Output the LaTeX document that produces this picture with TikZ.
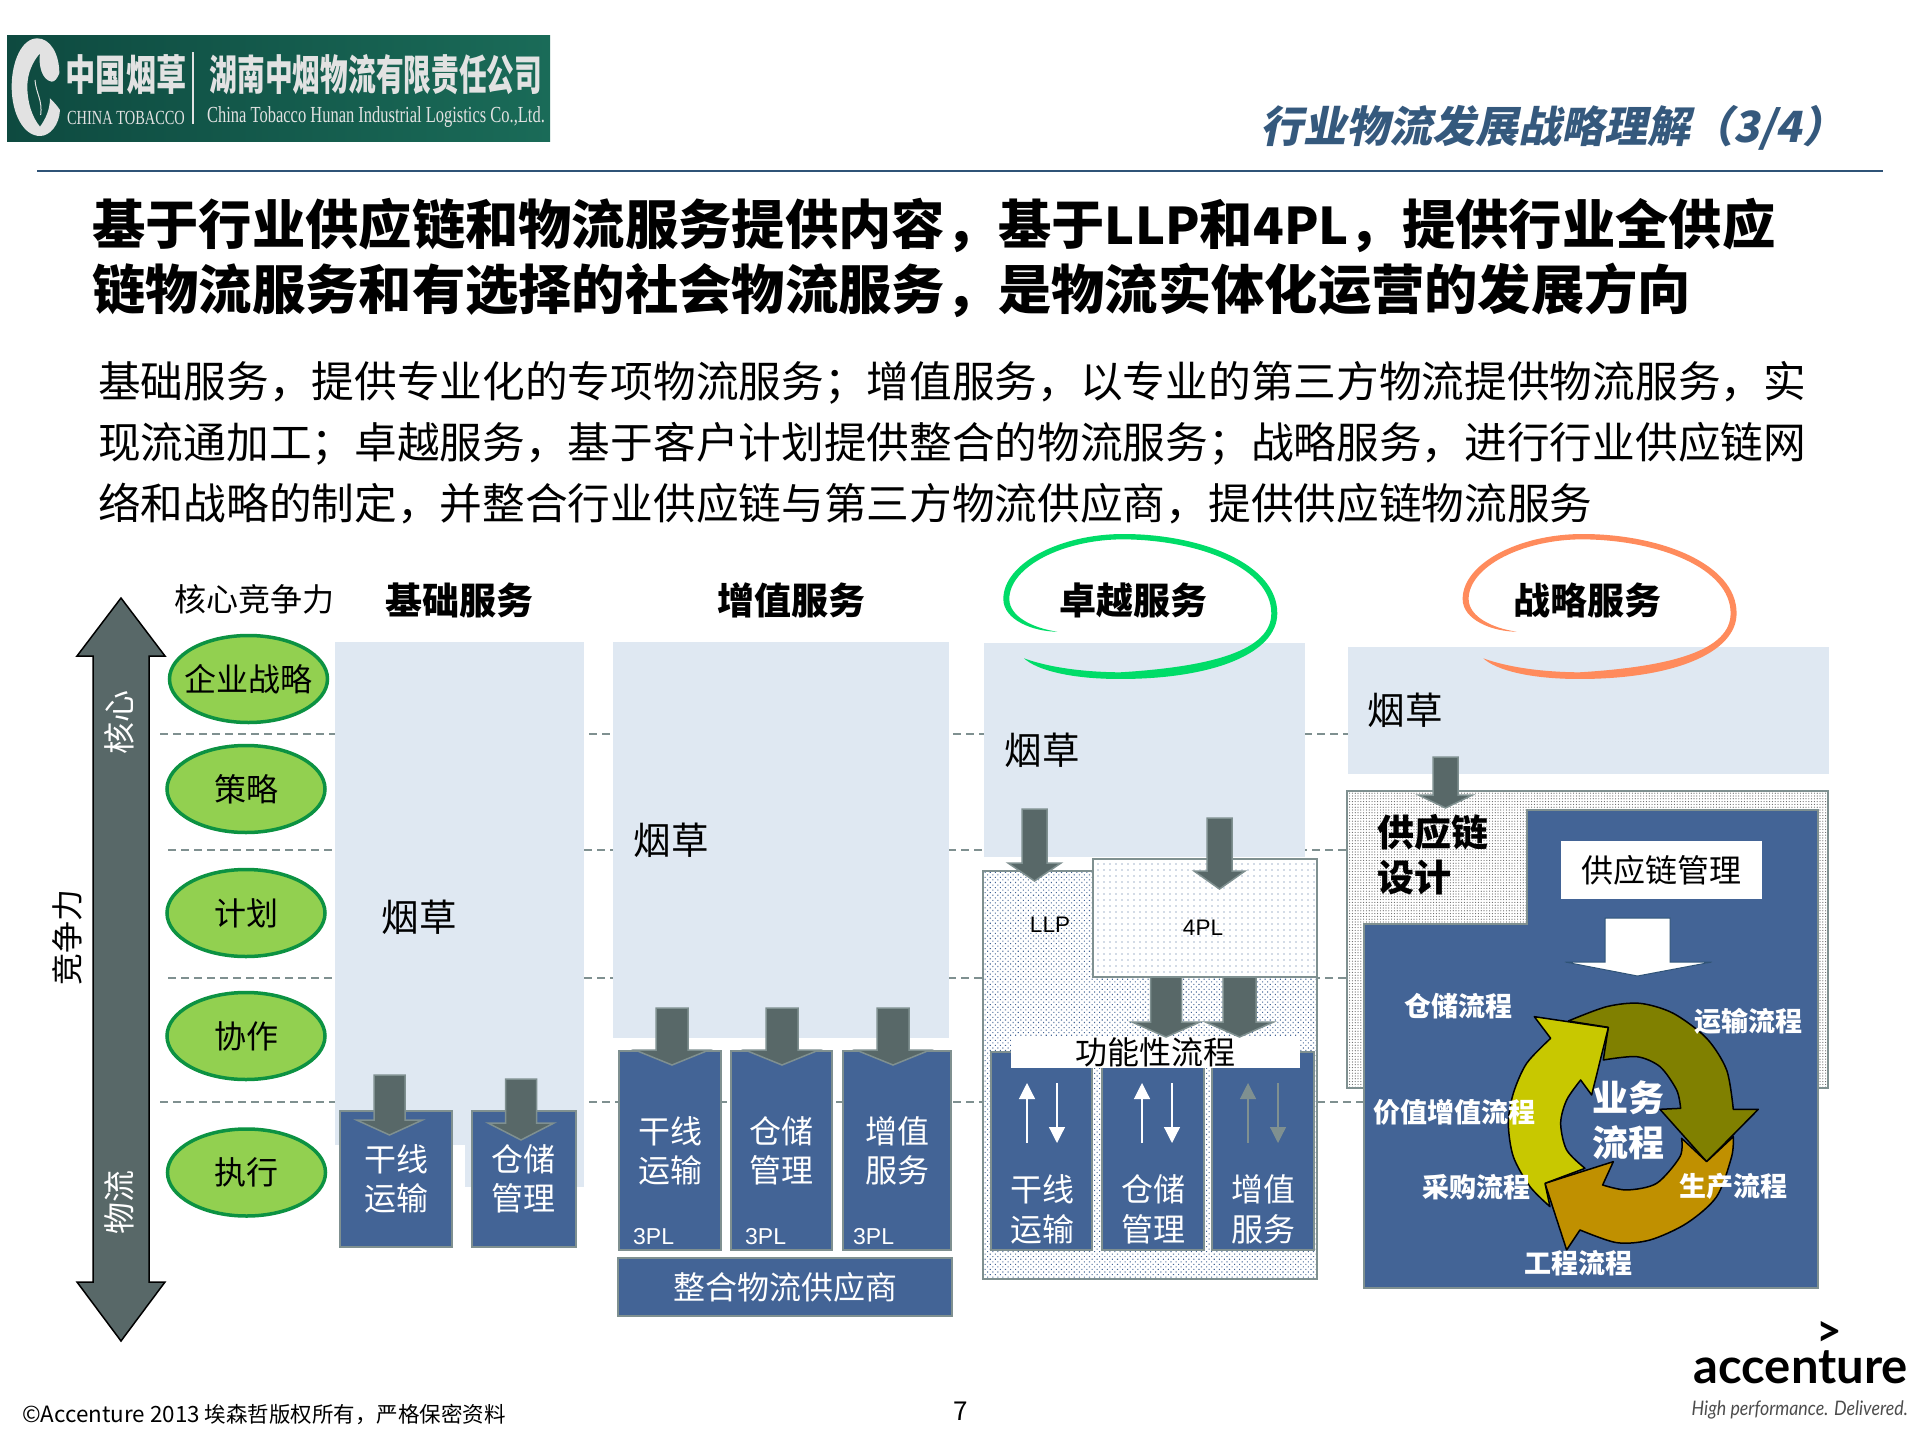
\documentclass[tikz,border=0pt]{standalone}
\usepackage{fontspec}
\setmainfont{Noto Sans CJK SC}
\newfontfamily\arialfont{Liberation Sans}
\newfontfamily\timesfont{Liberation Serif}
\newfontfamily\logofont{Lato}
\newfontfamily\headfont[FakeSlant=0.2]{Noto Sans CJK SC}
\usetikzlibrary{arrows.meta,patterns.meta,shapes.geometric}

\definecolor{slatefill}{HTML}{586868}
\definecolor{slateline}{HTML}{7F9090}
\definecolor{panelblue}{HTML}{DFE8F2}
\definecolor{boxblue}{HTML}{436496}
\definecolor{headblue}{HTML}{35597D}
\definecolor{rulecolor}{HTML}{2F5377}
\definecolor{leafgreen}{HTML}{92D050}
\definecolor{leafline}{HTML}{0C9242}
\definecolor{ringgreen}{HTML}{00DC68}
\definecolor{ringorange}{HTML}{FF8B5C}
\definecolor{logodark}{HTML}{0E4A40}
\definecolor{logolight}{HTML}{1A6B58}
\definecolor{logotext}{HTML}{E2E2E2}
\definecolor{cycleolive}{HTML}{808000}
\definecolor{cyclegold}{HTML}{C09000}
\definecolor{cycleyellow}{HTML}{C8C800}

\newcommand{\pxfont}[2]{\fontsize{#1}{#2}\selectfont}
\newcommand{\blockdown}[6]{%
    \filldraw[blockarrow] ({#1-#5},#2) -- ({#1+#5},#2) -- ({#1+#5},#3) -- ({#1+#6},#3) -- (#1,#4) -- ({#1-#6},#3) -- ({#1-#5},#3) -- cycle;}
\newcommand{\ringmark}[2]{%
    \fill[#2,shift={(#1,520)},x=0.3333pt,y=-0.3333pt] (292,335) .. controls (220,335) and (130,300) .. (130,237)
        .. controls (130,130) and (300,42) .. (490,42)
        .. controls (720,42) and (952,130) .. (952,280)
        .. controls (952,400) and (760,477) .. (480,477)
        .. controls (330,477) and (230,450) .. (192,415)
        .. controls (260,440) and (360,456) .. (480,457)
        .. controls (760,440) and (934,390) .. (934,280)
        .. controls (934,145) and (720,60) .. (490,58)
        .. controls (310,58) and (148,140) .. (148,237)
        .. controls (148,290) and (220,325) .. (292,335) -- cycle;}

\tikzset{
    rowline/.style={draw=slateline,line width=2pt,dash pattern=on 8pt off 5pt},
    blockarrow/.style={fill=slatefill,draw=slateline,line width=1.5pt},
    bluebox/.style={draw=slateline,fill=boxblue,line width=2pt,inner sep=0pt,text=white,align=center,font=\pxfont{32}{39}},
    bluetext/.style={text=white,align=center,inner sep=0pt,font=\pxfont{32}{40}},
    skill/.style={ellipse,draw=leafline,fill=leafgreen,line width=3.5pt,inner sep=0pt,minimum width=158pt,minimum height=87pt,font=\pxfont{32}{32}},
    colhead/.style={inner sep=0pt,font=\pxfont{37}{37}\bfseries},
    tobacco/.style={inner sep=0pt,font=\pxfont{37.5}{37.5}},
    threepl/.style={anchor=west,inner sep=0pt,text=white,font=\arialfont\pxfont{23}{23}},
    cyclelabel/.style={inner sep=0pt,text=white,font=\pxfont{27}{27}\bfseries},
    thinup/.style={line width=1.2pt,-{Triangle[width=16pt,length=16pt]}},
    cycleseg/.style={draw=black,line width=1.5pt,line join=round}
}

\begin{document}
\begin{tikzpicture}[x=1pt,y=-1pt]
        \useasboundingbox (0,0) rectangle (1920,1440);
        \fill[white] (0,0) rectangle (1920,1440);

        \shade[left color=logodark,right color=logolight] (7,35) rectangle (550,141);
        \begin{scope}[shift={(0,30)},x=0.3333pt,y=-0.3333pt]
            \fill[logotext] (178,130) .. controls (178,70) and (150,25) .. (112,25)
                .. controls (65,25) and (35,95) .. (35,170)
                .. controls (35,250) and (70,318) .. (120,318)
                .. controls (150,318) and (178,285) .. (180,240)
                .. controls (170,225) and (160,215) .. (150,205)
                .. controls (150,240) and (135,270) .. (120,290)
                .. controls (95,260) and (82,215) .. (82,170)
                .. controls (82,130) and (98,95) .. (120,70)
                .. controls (115,105) and (125,150) .. (155,155)
                .. controls (165,155) and (172,145) .. (178,130) -- cycle;
            \draw[logotext,line width=1pt] (105,150) .. controls (108,190) and (128,210) .. (122,255);
        \end{scope}
        \draw[logotext,line width=1.2pt] (193,52) -- (193,124);
        \node[text=logotext,inner sep=0pt,xscale=0.72,font=\pxfont{42}{42}\bfseries] (logocn) at (126,75){中国烟草};
        \node[text=logotext,inner sep=0pt,xscale=0.66,font=\pxfont{42}{42}\bfseries] (logocompany) at (376,75){湖南中烟物流有限责任公司};
        \node[text=logotext,inner sep=0pt,xscale=0.72,font=\timesfont\pxfont{20}{20}] (logochina) at (126,118){CHINA TOBACCO};
        \node[text=logotext,inner sep=0pt,xscale=0.717,font=\timesfont\pxfont{23}{23}] (logoen) at (376,117){China Tobacco Hunan Industrial Logistics Co.,Ltd.};

        \draw[rulecolor,line width=2.5pt] (37,171) -- (1883,171);
        \node[anchor=west,inner sep=0pt,text=headblue,font=\headfont\pxfont{43}{43}\bfseries] (pagehead) at (1260,128){行业物流发展战略理解（3/4）};

        \node[anchor=west,inner sep=0pt,align=left,font=\pxfont{53.3}{65}\bfseries] (title) at (92,257.5){基于行业供应链和物流服务提供内容，基于{\pxfont{50.5}{65}LLP}和{\pxfont{50.5}{65}4PL}，提供行业全供应\\链物流服务和有选择的社会物流服务，是物流实体化运营的发展方向};
        \node[anchor=west,inner sep=0pt,align=left,font=\pxfont{42.7}{61}] (intro) at (98,443){基础服务，提供专业化的专项物流服务；增值服务，以专业的第三方物流提供物流服务，实\\现流通加工；卓越服务，基于客户计划提供整合的物流服务；战略服务，进行行业供应链网\\络和战略的制定，并整合行业供应链与第三方物流供应商，提供供应链物流服务};

        \draw[rowline] (160,734) -- (1350,734);
        \draw[rowline] (168,850) -- (1350,850);
        \draw[rowline] (168,978) -- (1350,978);
        \draw[rowline] (160,1102) -- (1366,1102);

        \filldraw[fill=slatefill,draw=black,line width=1.5pt] (121,598) -- (165,656) -- (149,656) -- (149,1282) -- (165,1282) -- (121,1341) -- (77,1282) -- (93,1282) -- (93,656) -- (77,656) -- cycle;
        \node[rotate=90,inner sep=0pt,text=white,font=\pxfont{32}{32}] (core) at (119,722){核心};
        \node[rotate=90,inner sep=0pt,text=white,font=\pxfont{32}{32}] (flow) at (119,1202){物流};
        \node[rotate=90,inner sep=0pt,font=\pxfont{32}{32}] (compete) at (67,937){竞争力};
        \node[inner sep=0pt,font=\pxfont{32}{32}] (corecomp) at (254,599){核心竞争力};

        \node[skill] (strategy) at (248.5,679){\makebox[0pt]{企业战略}};
        \node[skill] (tactic) at (246,789){策略};
        \node[skill] (plan) at (246,913){计划};
        \node[skill] (collab) at (246,1036){协作};
        \node[skill] (execute) at (246.5,1172.5){执行};

        \node[colhead] (basic) at (459,600){基础服务};
        \node[colhead] (added) at (791,600){增值服务};
        \node[colhead] (excel) at (1133,600){卓越服务};
        \node[colhead] (strat) at (1587,600){战略服务};

        \fill[panelblue] (335,642) rectangle (584,1145);
        \fill[panelblue] (465,1145) rectangle (584,1187);
        \fill[panelblue] (613,642) rectangle (949,1038);
        \fill[panelblue] (984,643) rectangle (1305,857);
        \fill[panelblue] (1348,647) rectangle (1829,774);

        \ringmark{960}{ringgreen}
        \ringmark{1419.3}{ringorange}

        \node[tobacco] (tobaccoa) at (419,917){烟草};
        \node[tobacco] (tobaccob) at (671,840){烟草};
        \node[tobacco] (tobaccoc) at (1042,750){烟草};
        \node[tobacco] (tobaccod) at (1405,710){烟草};

        \node[bluebox,minimum width=112pt,minimum height=136pt] (trunka) at (396,1179){干线\\运输};
        \node[bluebox,minimum width=104pt,minimum height=136pt] (storea) at (523.5,1179){仓储\\管理};
        \node[bluebox,minimum width=102pt,minimum height=199pt] (trunkb) at (670,1150.5){干线\\运输};
        \node[bluebox,minimum width=101pt,minimum height=199pt] (storeb) at (781.5,1150.5){仓储\\管理};
        \node[bluebox,minimum width=108pt,minimum height=199pt] (valueb) at (897,1150.5){增值\\服务};
        \node[bluebox,minimum width=334pt,minimum height=58pt] (integrator) at (785,1287){整合物流供应商};
        \node[threepl] (plone) at (633,1237){3PL};
        \node[threepl] (pltwo) at (745,1237){3PL};
        \node[threepl] (plthree) at (853,1237){3PL};

        \filldraw[draw=slateline,line width=2pt,preaction={fill=white},pattern={Dots[distance=3.6pt,radius=0.75pt,angle=45]},pattern color=boxblue] (983,871) rectangle (1317,1279);
        \filldraw[draw=slateline,line width=2pt,preaction={fill=white},pattern={Dots[distance=6pt,radius=0.7pt]},pattern color=boxblue] (1093,859) rectangle (1317,977);
        \node[inner sep=0pt,font=\arialfont\pxfont{22.5}{22.5}] (llp) at (1050,925){LLP};
        \node[inner sep=0pt,font=\arialfont\pxfont{22.5}{22.5}] (fourpl) at (1203,928){4PL};

        \node[bluebox,minimum width=101pt,minimum height=198pt] (trunkc) at (1041.5,1151){};
        \node[bluebox,minimum width=102pt,minimum height=198pt] (storec) at (1153,1151){};
        \node[bluebox,minimum width=102pt,minimum height=198pt] (valuec) at (1263,1151){};
        \node[fill=white,inner sep=0pt,minimum width=289pt,minimum height=31pt,font=\pxfont{32}{32}] (funcflow) at (1155.5,1052.5){功能性流程};
        \node[bluetext] (trunkctext) at (1042,1209){干线\\运输};
        \node[bluetext] (storectext) at (1153,1209){仓储\\管理};
        \node[bluetext] (valuectext) at (1263,1209){增值\\服务};

        \coordinate (upa) at (1027,1143);
        \coordinate (upatop) at (1027,1083);
        \coordinate (downa) at (1057,1083);
        \coordinate (downaend) at (1057,1143);
        \coordinate (upb) at (1142,1143);
        \coordinate (upbtop) at (1142,1083);
        \coordinate (downb) at (1172,1083);
        \coordinate (downbend) at (1172,1143);
        \coordinate (upc) at (1248,1143);
        \coordinate (upctop) at (1248,1083);
        \coordinate (downc) at (1278,1083);
        \coordinate (downcend) at (1278,1143);
        \draw[thinup,white] (upa) -- (upatop);
        \draw[thinup,white] (downa) -- (downaend);
        \draw[thinup,white] (upb) -- (upbtop);
        \draw[thinup,white] (downb) -- (downbend);
        \draw[thinup,slateline] (upc) -- (upctop);
        \draw[thinup,slateline] (downc) -- (downcend);

        \filldraw[draw=slateline,line width=2pt,preaction={fill=white},pattern={Dots[distance=2.8pt,radius=0.6pt]},pattern color=black!60] (1347,791) rectangle (1828,1088);
        \filldraw[draw=slateline,fill=boxblue,line width=2pt] (1527,810) -- (1818,810) -- (1818,1288) -- (1364,1288) -- (1364,924) -- (1527,924) -- cycle;
        \node[fill=white,inner sep=0pt,minimum width=201pt,minimum height=58pt,font=\pxfont{32}{32}] (scm) at (1661.5,870){供应链管理};
        \node[anchor=west,inner sep=0pt,align=left,font=\pxfont{37}{45}\bfseries] (scdesign) at (1377,855){供应链\\设计};
        \filldraw[fill=white,draw=rulecolor,line width=1pt] (1605,918) -- (1670,918) -- (1670,962) -- (1712,962) -- (1637.5,976) -- (1565,962) -- (1605,962) -- cycle;

        \begin{scope}[shift={(1340,950)},x=0.3333pt,y=-0.3333pt]
            \filldraw[cycleseg,fill=cycleolive] (685,213) -- plot[smooth] coordinates {(685,213) (800,170) (900,160) (1000,190) (1100,265) (1160,360) (1180,478)} -- (1255,478) -- (1100,635) -- (960,478) -- (1022,475) -- plot[smooth] coordinates {(1022,475) (1010,420) (960,350) (890,320) (790,330)} -- (805,232) -- cycle;
            \filldraw[cycleseg,fill=cyclegold] (1180,560) -- plot[smooth] coordinates {(1180,560) (1175,620) (1130,740) (1040,820) (930,870) (830,878) (720,840)} -- (680,900) -- (615,700) -- (820,635) -- (788,705) -- plot[smooth] coordinates {(788,705) (860,720) (950,700) (1020,620) (1025,565)} -- (1100,635) -- cycle;
            \filldraw[cycleseg,fill=cycleyellow] (630,770) -- plot[smooth] coordinates {(630,770) (570,710) (520,620) (505,520) (520,430) (560,340) (632,265)} -- (583,200) -- (805,233) -- (755,435) -- (722,390) -- plot[smooth] coordinates {(722,390) (680,450) (662,520) (680,600) (735,655)} -- (615,700) -- cycle;
        \end{scope}
        \node[inner sep=0pt,align=center,text=white,font=\pxfont{36}{45}\bfseries] (bizflow) at (1628,1120){业务\\流程};
        \node[cyclelabel] (storeflow) at (1458,1006){仓储流程};
        \node[cyclelabel] (shipflow) at (1748,1021){运输流程};
        \node[cyclelabel] (valueflow) at (1454,1112){价值增值流程};
        \node[cyclelabel] (buyflow) at (1476,1187){采购流程};
        \node[cyclelabel] (makeflow) at (1733,1186){生产流程};
        \node[cyclelabel] (projflow) at (1578,1263){工程流程};

        \blockdown{389.5}{1075}{1120}{1135}{15.5}{33}
        \blockdown{521}{1079}{1123}{1140}{15.5}{33}
        \blockdown{672}{1008}{1050}{1065}{16}{37}
        \blockdown{782}{1008}{1050}{1065}{16}{37}
        \blockdown{893}{1008}{1050}{1065}{16}{37}
        \blockdown{1034.5}{809}{863}{881}{12.5}{26.5}
        \blockdown{1219.5}{818}{871}{889}{12.5}{25.5}
        \blockdown{1166}{977}{1022}{1037}{15.5}{34}
        \blockdown{1239.5}{977}{1022}{1037}{16.5}{34}
        \blockdown{1445.5}{757}{795}{808}{12.5}{27}

        \node[anchor=west,inner sep=0pt,font=\pxfont{21.5}{21.5}] (copyright) at (22,1414){{\pxfont{22.4}{22.4}©Accenture 2013} 埃森哲版权所有，严格保密资料};
        \node[inner sep=0pt,font=\pxfont{26}{26}] (pagenum) at (961,1411){7};
        \node[inner sep=0pt,font=\logofont\pxfont{44}{44}\bfseries] (logotip) at (1829,1334){>};
        \node[anchor=base east,inner sep=0pt,font=\logofont\pxfont{49}{49}\bfseries] (accent) at (1908,1383){accenture};
        \node[anchor=east,inner sep=0pt,xscale=0.89,text=black!70,font=\logofont\pxfont{20}{20}\itshape] (tagline) at (1908,1410){High performance. Delivered.};
    \end{tikzpicture}
\end{document}
